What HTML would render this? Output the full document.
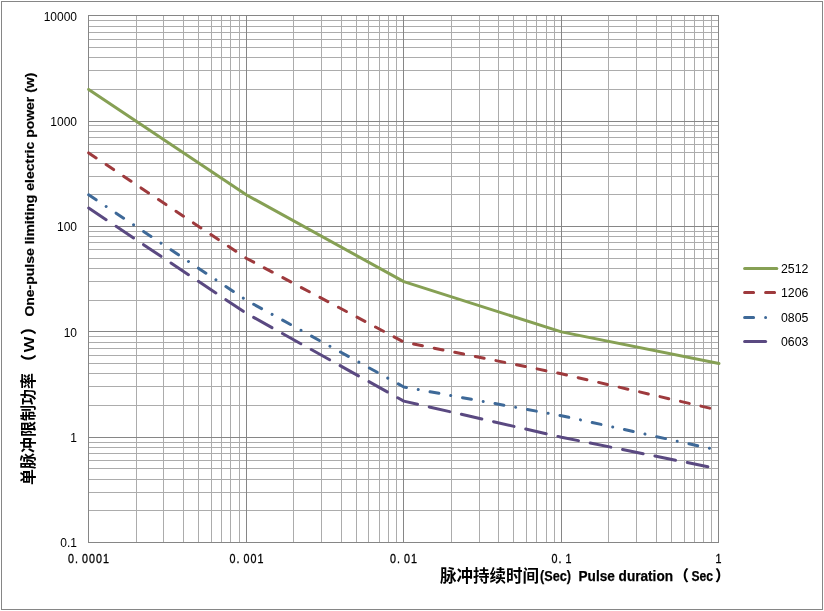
<!DOCTYPE html><html><head><meta charset="utf-8"><style>html,body{margin:0;padding:0;background:#fff;}svg{display:block;}</style></head><body>
<svg width="824" height="611" viewBox="0 0 824 611">
<rect x="0" y="0" width="824" height="611" fill="#fff"/>
<rect x="1.5" y="1.5" width="821" height="608" fill="none" stroke="#868686" stroke-width="1"/>
<path d="M136.5 15V543M163.5 15V543M183.5 15V543M198.5 15V543M211.5 15V543M221.5 15V543M230.5 15V543M239.5 15V543M293.5 15V543M321.5 15V543M341.5 15V543M356.5 15V543M368.5 15V543M379.5 15V543M388.5 15V543M396.5 15V543M451.5 15V543M479.5 15V543M498.5 15V543M513.5 15V543M526.5 15V543M536.5 15V543M546.5 15V543M554.5 15V543M608.5 15V543M636.5 15V543M656.5 15V543M671.5 15V543M684.5 15V543M694.5 15V543M703.5 15V543M711.5 15V543M88 89.5H719M88 70.5H719M88 57.5H719M88 47.5H719M88 39.5H719M88 32.5H719M88 26.5H719M88 20.5H719M88 194.5H719M88 176.5H719M88 163.5H719M88 152.5H719M88 144.5H719M88 137.5H719M88 131.5H719M88 125.5H719M88 300.5H719M88 281.5H719M88 268.5H719M88 258.5H719M88 249.5H719M88 242.5H719M88 236.5H719M88 231.5H719M88 405.5H719M88 386.5H719M88 373.5H719M88 363.5H719M88 355.5H719M88 348.5H719M88 342.5H719M88 336.5H719M88 510.5H719M88 492.5H719M88 479.5H719M88 468.5H719M88 460.5H719M88 453.5H719M88 447.5H719M88 442.5H719" stroke="#acacac" stroke-width="1" fill="none" shape-rendering="crispEdges"/>
<path d="M88.5 15V543M246.5 15V543M403.5 15V543M561.5 15V543M718.5 15V543M88 15.5H719M88 121.5H719M88 226.5H719M88 331.5H719M88 437.5H719M88 542.5H719" stroke="#868686" stroke-width="1" fill="none" shape-rendering="crispEdges"/>
<polyline points="88.66,89.45 246.24,194.80 403.82,281.60 561.40,331.86 718.98,363.57" fill="none" stroke="#86a054" stroke-width="3" stroke-linecap="round" stroke-linejoin="round"/>
<polyline points="88.66,152.88 246.24,258.22 403.82,342.07 561.40,373.78 718.98,410.31" fill="none" stroke="#9e3a3d" stroke-width="3" stroke-linecap="round" stroke-linejoin="round" stroke-dasharray="9 12"/>
<polyline points="88.66,194.80 246.24,300.15 403.82,386.94 561.40,415.70 718.98,450.37" fill="none" stroke="#3e6998" stroke-width="3" stroke-linecap="round" stroke-linejoin="round" stroke-dasharray="9 12 0.01 12"/>
<polyline points="88.66,207.96 246.24,313.31 403.82,401.13 561.40,437.21 718.98,468.92" fill="none" stroke="#5a4981" stroke-width="3" stroke-linecap="round" stroke-linejoin="round" stroke-dasharray="21 12"/>
<line x1="744.6" y1="268.5" x2="776.8" y2="268.5" stroke="#86a054" stroke-width="3" stroke-linecap="round"/>
<text x="781" y="273.4" font-family="Liberation Sans, sans-serif" font-size="12.3" fill="#000">2512</text>
<line x1="744.6" y1="292.5" x2="776.8" y2="292.5" stroke="#9e3a3d" stroke-width="3" stroke-linecap="round" stroke-dasharray="9 12"/>
<text x="781" y="297.4" font-family="Liberation Sans, sans-serif" font-size="12.3" fill="#000">1206</text>
<line x1="744.6" y1="317.5" x2="776.8" y2="317.5" stroke="#3e6998" stroke-width="3" stroke-linecap="round" stroke-dasharray="9 12 0.01 12"/>
<text x="781" y="322.4" font-family="Liberation Sans, sans-serif" font-size="12.3" fill="#000">0805</text>
<line x1="744.6" y1="341.5" x2="776.8" y2="341.5" stroke="#5a4981" stroke-width="3" stroke-linecap="round" stroke-dasharray="21 12"/>
<text x="781" y="346.4" font-family="Liberation Sans, sans-serif" font-size="12.3" fill="#000">0603</text>
<text x="77" y="20.61" text-anchor="end" font-family="Liberation Sans, sans-serif" font-size="12" fill="#000">10000</text>
<text x="77" y="125.96" text-anchor="end" font-family="Liberation Sans, sans-serif" font-size="12" fill="#000">1000</text>
<text x="77" y="231.31" text-anchor="end" font-family="Liberation Sans, sans-serif" font-size="12" fill="#000">100</text>
<text x="77" y="336.66" text-anchor="end" font-family="Liberation Sans, sans-serif" font-size="12" fill="#000">10</text>
<text x="77" y="442.01" text-anchor="end" font-family="Liberation Sans, sans-serif" font-size="12" fill="#000">1</text>
<text x="77" y="547.36" text-anchor="end" font-family="Liberation Sans, sans-serif" font-size="12" fill="#000">0.1</text>
<text transform="translate(88.5,0) scale(0.86,1)" x="-20.35 -13.95 -4.07 4.07 12.21 20.35" y="563.3" text-anchor="middle" font-family="Liberation Sans, sans-serif" font-size="12.5" fill="#000" stroke="#000" stroke-width="0.3">0.0001</text>
<text transform="translate(246.5,0) scale(0.86,1)" x="-16.28 -9.88 0.00 8.14 16.28" y="563.3" text-anchor="middle" font-family="Liberation Sans, sans-serif" font-size="12.5" fill="#000" stroke="#000" stroke-width="0.3">0.001</text>
<text transform="translate(403.5,0) scale(0.86,1)" x="-12.21 -5.81 4.07 12.21" y="563.3" text-anchor="middle" font-family="Liberation Sans, sans-serif" font-size="12.5" fill="#000" stroke="#000" stroke-width="0.3">0.01</text>
<text transform="translate(561.5,0) scale(0.86,1)" x="-8.14 -1.74 8.14" y="563.3" text-anchor="middle" font-family="Liberation Sans, sans-serif" font-size="12.5" fill="#000" stroke="#000" stroke-width="0.3">0.1</text>
<text transform="translate(718.5,0) scale(0.86,1)" x="0.00" y="563.3" text-anchor="middle" font-family="Liberation Sans, sans-serif" font-size="12.5" fill="#000" stroke="#000" stroke-width="0.3">1</text>
<text x="440" y="582" font-family="Liberation Sans, Noto Sans CJK SC, sans-serif" font-size="16.5" font-weight="bold" textLength="99" lengthAdjust="spacingAndGlyphs" fill="#000">脉冲持续时间</text>
<text x="540" y="580.5" font-family="Liberation Sans, sans-serif" font-size="15" font-weight="bold" stroke="#000" stroke-width="0.25" textLength="31" lengthAdjust="spacingAndGlyphs" fill="#000">(Sec)</text>
<text x="578.5" y="580.5" font-family="Liberation Sans, sans-serif" font-size="14.3" font-weight="bold" stroke="#000" stroke-width="0.25" textLength="94.5" lengthAdjust="spacingAndGlyphs" fill="#000">Pulse duration</text>
<text x="674" y="580.5" font-family="Liberation Sans, Noto Sans CJK SC, sans-serif" font-size="15" font-weight="900" fill="#000">（</text>
<text x="691.5" y="580.5" font-family="Liberation Sans, sans-serif" font-size="14.3" font-weight="bold" stroke="#000" stroke-width="0.25" textLength="21.5" lengthAdjust="spacingAndGlyphs" fill="#000">Sec</text>
<text x="715" y="580.5" font-family="Liberation Sans, Noto Sans CJK SC, sans-serif" font-size="15" font-weight="900" fill="#000">）</text>
<text transform="translate(34,485) rotate(-90)" font-family="Liberation Sans, Noto Sans CJK SC, sans-serif" font-size="16" font-weight="bold" textLength="112" lengthAdjust="spacingAndGlyphs" fill="#000">单脉冲限制功率</text>
<text transform="translate(34,370) rotate(-90)" font-family="Liberation Sans, Noto Sans CJK SC, sans-serif" font-size="16" font-weight="900" fill="#000">（</text>
<text transform="translate(34,352.5) rotate(-90) scale(1,0.82)" font-family="Liberation Sans, Noto Sans CJK SC, sans-serif" font-size="16" font-weight="bold" fill="#000">Ｗ</text>
<text transform="translate(34,335) rotate(-90)" font-family="Liberation Sans, Noto Sans CJK SC, sans-serif" font-size="16" font-weight="900" fill="#000">）</text>
<text transform="translate(33.6,316.6) rotate(-90)" font-family="Liberation Sans, sans-serif" font-size="13.5" font-weight="bold" stroke="#000" stroke-width="0.2" textLength="244" lengthAdjust="spacingAndGlyphs" fill="#000">One-pulse limiting electric power (w)</text>
</svg></body></html>
